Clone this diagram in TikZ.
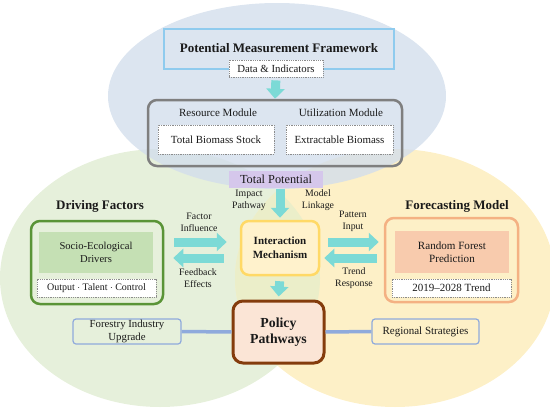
\documentclass[tikz,border=0pt]{standalone}
\usepackage{fontspec}
\setmainfont{Liberation Serif}
\usetikzlibrary{arrows.meta,calc}
\definecolor{bgblue}{HTML}{D3DEEC}
\definecolor{bggreen}{HTML}{E6F0DB}
\definecolor{bgyellow}{HTML}{FDF0C7}
\definecolor{bglens}{HTML}{EBEEC9}
\definecolor{acyan}{HTML}{7CDAD6}
\definecolor{pmfblue}{HTML}{8FCBEE}
\definecolor{modgray}{HTML}{7F7F7F}
\definecolor{tpurple}{HTML}{D5C7EB}
\definecolor{iborder}{HTML}{FFD966}
\definecolor{ifill}{HTML}{FFF2CC}
\definecolor{gborder}{HTML}{5A9437}
\definecolor{gfill}{HTML}{C5E0B4}
\definecolor{oborder}{HTML}{F4B183}
\definecolor{ofill}{HTML}{F8CBAD}
\definecolor{pborder}{HTML}{843C0C}
\definecolor{pfill}{HTML}{FBE5D6}
\definecolor{lblue}{HTML}{8FAADC}
\definecolor{txt}{HTML}{1A1A1A}
\definecolor{dotgray}{HTML}{8C8C8C}
\begin{document}
\begin{tikzpicture}[x=1pt,y=-1pt,
  every node/.style={inner sep=0pt, align=center, text=txt},
  dotbox/.style={draw=dotgray, densely dotted, line width=0.8pt, fill=white},
  carrow/.style={draw=acyan, line width=9pt, -{Triangle[length=10pt,width=18pt]}},
  pline/.style={draw=lblue, line width=3.5pt},
  sidebox/.style={draw=lblue, line width=1.2pt, rounded corners=3pt},
  lbl/.style={font=\fontsize{9.8}{12}\selectfont},
  ttl/.style={font=\fontsize{13}{15}\selectfont\bfseries}
]
\useasboundingbox (0,0) rectangle (550,410);
% background ellipses
\fill[bggreen] (160,278) ellipse [x radius=160pt, y radius=129pt];
\fill[bgyellow] (395,278) ellipse [x radius=160pt, y radius=129pt];
\begin{scope}
  \clip (160,278) ellipse [x radius=160pt, y radius=129pt];
  \fill[bglens] (395,278) ellipse [x radius=160pt, y radius=129pt];
\end{scope}
\fill[bgblue, fill opacity=0.8] (277,96) ellipse [x radius=169pt, y radius=93pt];

% top framework
\node[draw=pmfblue, line width=2.5pt, minimum width=230pt, minimum height=40pt,
      font=\fontsize{13}{15}\selectfont\bfseries] (pmf) at (279,49) {\raisebox{3pt}{Potential Measurement Framework}};
\node[dotbox, minimum width=94pt, minimum height=17pt, font=\fontsize{10.8}{12}\selectfont] (data) at (276,68.5) {Data \& Indicators};
\node[draw=modgray, line width=2.5pt, rounded corners=9pt, minimum width=254pt, minimum height=66pt] (mod) at (275,133) {};
\node[font=\fontsize{11}{12}\selectfont] (resm) at (218,113) {Resource Module};
\node[font=\fontsize{11}{12}\selectfont] (utim) at (341,113) {Utilization Module};
\node[dotbox, minimum width=116pt, minimum height=29pt, font=\fontsize{10.9}{12}\selectfont] (tbs) at (216,139.5) {Total Biomass Stock};
\node[dotbox, minimum width=107pt, minimum height=29pt, font=\fontsize{10.9}{12}\selectfont] (exb) at (339.5,139.5) {Extractable Biomass};
\draw[carrow, shorten <=3pt] (data.south) -- (mod.north);

\node[fill=tpurple, minimum width=94pt, minimum height=17pt, font=\fontsize{12.3}{13}\selectfont] (tp) at (276,179) {Total Potential};
\node[lbl] (impact) at (249,200.5) {Impact\\Pathway};
\node[lbl] (linkage) at (318,200.5) {Model\\Linkage};

% interaction
\node[draw=iborder, fill=ifill, line width=2.5pt, rounded corners=8pt, minimum width=78pt, minimum height=54pt,
      font=\fontsize{11}{14}\selectfont\bfseries] (inter) at (280,248) {Interaction\\Mechanism};
\draw[carrow, shorten <=1pt, shorten >=2pt] (tp.south -| inter.north) -- (inter.north);

% driving factors
\node[ttl] (dft) at (100,206) {Driving Factors};
\node[draw=gborder, line width=2.5pt, rounded corners=9pt, minimum width=132pt, minimum height=83pt] (gbox) at (97,262.5) {};
\node[fill=gfill, minimum width=114pt, minimum height=41pt, font=\fontsize{10.6}{12.5}\selectfont] (sed) at (96,252.5) {Socio-Ecological\\Drivers};
\node[dotbox, minimum width=119pt, minimum height=18pt, font=\fontsize{10}{12}\selectfont] (otc) at (96.5,288) {Output $\cdot$ Talent $\cdot$ Control};

% forecasting model
\node[ttl] (fmt) at (457,206) {Forecasting Model};
\node[draw=oborder, line width=2.5pt, rounded corners=9pt, minimum width=133pt, minimum height=84pt] (obox) at (451.5,260) {};
\node[fill=ofill, minimum width=114pt, minimum height=42pt, font=\fontsize{11.1}{12.8}\selectfont] (rfp) at (452,252) {Random Forest\\Prediction};
\node[dotbox, minimum width=119pt, minimum height=18pt, font=\fontsize{11}{12}\selectfont] (trend) at (451.5,288) {2019–2028 Trend};

% horizontal arrows
\draw[carrow, shorten <=10pt, shorten >=13pt] (gbox.east |- 0,242) -- (inter.west |- 0,242);
\draw[carrow, shorten <=16pt, shorten >=9pt] (inter.west |- 0,258) -- (gbox.east |- 0,258);
\draw[carrow, shorten <=8pt, shorten >=5pt] (inter.east |- 0,242) -- (obox.west |- 0,242);
\draw[carrow, shorten <=7pt, shorten >=4pt] (obox.west |- 0,258) -- (inter.east |- 0,258);
\node[lbl] (fi) at (199,222) {Factor\\Influence};
\node[lbl] (fe) at (198,278.5) {Feedback\\Effects};
\node[lbl] (pi) at (353,221.5) {Pattern\\Input};
\node[lbl] (tr) at (354,278) {Trend\\Response};

% policy
\node[draw=pborder, fill=pfill, line width=3pt, rounded corners=10pt, minimum width=91pt, minimum height=62pt,
      font=\fontsize{13.8}{16.5}\selectfont\bfseries] (policy) at (278.5,332) {Policy\\Pathways};
\draw[carrow, shorten <=5pt, shorten >=3pt] (inter.south) -- (policy.north);
\node[sidebox, minimum width=108pt, minimum height=25pt, font=\fontsize{10.8}{13}\selectfont] (fiu) at (127,331.5) {Forestry Industry\\Upgrade};
\node[sidebox, minimum width=107pt, minimum height=25pt, font=\fontsize{11}{12}\selectfont] (rs) at (425.5,331.5) {Regional Strategies};
\draw[pline] (fiu.east) -- (policy.west);
\draw[pline] (policy.east) -- (rs.west);
\end{tikzpicture}
\end{document}
